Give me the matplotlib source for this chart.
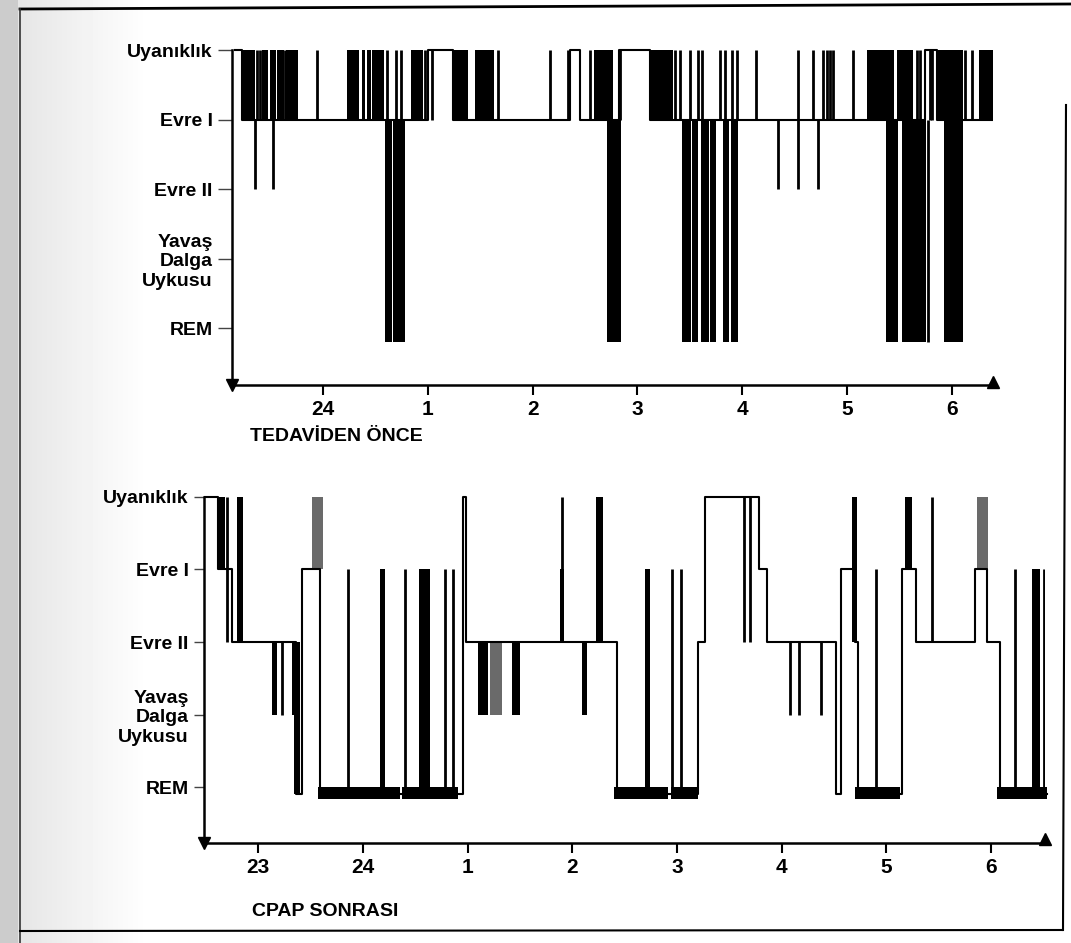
import numpy as np
import matplotlib
matplotlib.use('Agg')
import matplotlib.pyplot as plt

plt.rcParams['font.family'] = ['Liberation Sans', 'DejaVu Sans']
plt.rcParams['font.weight'] = 'bold'

# evreler (0 = uyaniklik, -4 = REM)
evre_ad = ['Uyanıklık', 'Evre I', 'Evre II', 'Yavaş\nDalga\nUykusu', 'REM']
evre_y = [0, -1, -2, -3, -4]

# ---- TEDAVIDEN ONCE (saat, 0 = gece yarisi) ----
ust_t = [-0.84, -0.77, 1.00, 1.24, 2.36, 2.45, 2.82, 3.12, 5.74, 5.86, 6.43]
ust_s = [0, -1, 0, -1, 0, -1, 0, -1, 0, -1, -1]
ust_saat = [0, 1, 2, 3, 4, 5, 6]
ust_etiket = ['24', '1', '2', '3', '4', '5', '6']

# yogun bloklar: baslangic, bitis, alt evre, ust evre
ust_blok_bas = [-0.78, -0.58, -0.51, -0.44, -0.35, 0.23, 0.37, 0.42, 0.47, 0.84, 1.24, 1.45, 2.59, 3.12, 5.19, 5.35, 5.48, 5.86, 6.26,
                0.59, 0.67, 2.71, 3.43, 3.52, 3.61, 3.69, 3.82, 3.89, 5.37, 5.52, 5.93, 6.06]
ust_blok_bit = [-0.65, -0.52, -0.45, -0.37, -0.24, 0.34, 0.40, 0.46, 0.58, 0.95, 1.38, 1.63, 2.77, 3.34, 5.35, 5.45, 5.63, 6.11, 6.39,
                0.66, 0.78, 2.84, 3.51, 3.58, 3.68, 3.75, 3.87, 3.96, 5.49, 5.75, 6.06, 6.11]
ust_blok_alt = [-1] * 19 + [-4.2] * 13
ust_blok_ust = [0] * 19 + [-1] * 13

# ince cizgiler
ust_cz_t = [-0.63, -0.60, -0.36, -0.30, -0.27, -0.057, 0.61, 0.70, 0.74, 0.97, 1.04, 1.67, 2.17, 2.34, 2.55, 2.83,
            3.36, 3.41, 3.50, 3.58, 3.62, 3.79, 3.84, 3.90, 3.95, 4.13, 4.53, 4.68, 4.77, 4.81, 4.84, 4.87, 5.06,
            5.67, 5.70, 5.79, 5.81, 6.13, 6.19, 6.41,
            -0.65, -0.48, 4.34, 4.53, 4.72, 5.77]
ust_cz_alt = [-1] * 40 + [-2] * 5 + [-4.2]
ust_cz_ust = [0] * 40 + [-1] * 5 + [-1]

# ---- CPAP SONRASI ----
alt_t = [-1.51, -1.39, -1.25, -0.645, -0.58, -0.41, 0.955, 0.98, 2.43, 3.20, 3.27, 3.78, 3.86, 4.52, 4.57,
         4.70, 4.73, 5.15, 5.28, 5.85, 5.96, 6.08, 6.53]
alt_s = [0, -1, -2, -4.1, -1, -4.1, 0, -2, -4.1, -2, 0, -1, -2, -4.1, -1, -2, -4.1, -1, -2, -1, -2, -4.1, -4.1]
alt_saat = [-1, 0, 1, 2, 3, 4, 5, 6]
alt_etiket = ['23', '24', '1', '2', '3', '4', '5', '6']

alt_blok_bas = [-1.385, -1.20, 2.23, 4.67, 5.18, 1.88, -0.87, -0.68, 1.10, 1.42, 2.09, 0.16, 0.53, 2.69, 6.39, -0.66]
alt_blok_bit = [-1.318, -1.15, 2.29, 4.72, 5.24, 1.92, -0.82, -0.62, 1.19, 1.50, 2.14, 0.21, 0.64, 2.74, 6.47, -0.60]
alt_blok_alt = [-1, -2, -2, -2, -1, -2, -3, -3, -3, -3, -3, -4.1, -4.1, -4.1, -4.1, -4.1]
alt_blok_ust = [0, 0, 0, 0, 0, -1, -2, -2, -2, -2, -2, -1, -1, -1, -1, -2]
alt_gri_bas = [-0.49, 5.86, 1.21]
alt_gri_bit = [-0.38, 5.97, 1.33]
alt_gri_alt = [-1, -1, -3]
alt_gri_ust = [0, 0, -2]

alt_cz_t = [-1.30, 3.64, 3.70, 5.43, 1.90, -0.77, 4.08, 4.16, 4.37,
            -0.14, 0.40, 0.78, 0.86, 2.95, 3.04, 4.90, 6.23, 6.50]
alt_cz_alt = [-2, -2, -2, -2, -2, -3, -3, -3, -3] + [-4.1] * 9
alt_cz_ust = [0, 0, 0, 0, 0, -2, -2, -2, -2] + [-1] * 9

# REM kalin cubuklari
rem_bas = [-0.43, 0.37, 2.40, 2.94, 4.70, 6.06]
rem_bit = [0.35, 0.91, 2.91, 3.20, 5.13, 6.53]

W, H = 1071, 943
fig = plt.figure(figsize=(W / 100, H / 100), dpi=100)

# sayfa arka plani
bg = fig.add_axes([0, 0, 1, 1])
bg.set_xlim(0, W)
bg.set_ylim(H, 0)
bg.axis('off')
grad = np.ones((10, 200))
xs = np.arange(200)
grad[:] = np.where(xs < 18, 0.80, 0.90 + 0.10 * np.clip((xs - 18) / 130, 0, 1))
bg.imshow(grad, cmap='gray', vmin=0, vmax=1, extent=[0, 200, H, 0], aspect='auto', zorder=0)
bg.plot([20, 1071], [9, 4], color='black', lw=2)
bg.plot([20, 20], [9, H], color='#333333', lw=1.2)
bg.plot([20, 1062], [931, 930], color='black', lw=1.5)
bg.plot([1063, 1066], [930, 105], color='black', lw=1.5)


def ciz(ax, t, s, bb, be, bl, bu, ct, cl, cu, saat, etiket, tlen, tpad):
    ax.plot(t, s, drawstyle='steps-post', color='black', lw=1.5)
    ax.bar(bb, np.array(bu) - np.array(bl), width=np.array(be) - np.array(bb), bottom=bl,
           align='edge', color='black', lw=0)
    ax.vlines(ct, cl, cu, color='black', lw=2.0)
    ax.set_facecolor('none')
    for k in ['top', 'right']:
        ax.spines[k].set_visible(False)
    ax.spines['left'].set_linewidth(1.8)
    ax.spines['bottom'].set_linewidth(1.8)
    x0, x1 = ax.get_xlim()
    y0 = ax.get_ylim()[0]
    ax.spines['left'].set_bounds(y0, 0)
    ax.plot([x0], [y0], marker='v', color='black', ms=9, clip_on=False)
    ax.plot([x1], [y0 + 0.05], marker='^', color='black', ms=8, clip_on=False)
    ax.set_yticks(evre_y)
    ax.set_yticklabels(evre_ad, fontsize=14, fontweight='bold')
    ax.set_xticks(saat)
    ax.set_xticklabels(etiket, fontsize=15, fontweight='bold')
    ax.tick_params(axis='y', length=tlen, width=1, pad=tpad, color='#444444')
    ax.tick_params(axis='x', length=7, width=1.5, pad=4, direction='out')


ax1 = fig.add_axes([232 / W, 1 - 385 / H, (993 - 232) / W, (385 - 39.6) / H])
ax1.set_xlim(-0.868, 6.393)
ax1.set_ylim(-4.82, 0.15)
ciz(ax1, ust_t, ust_s, ust_blok_bas, ust_blok_bit, ust_blok_alt, ust_blok_ust,
    ust_cz_t, ust_cz_alt, ust_cz_ust, ust_saat, ust_etiket, 10, 4)

ax2 = fig.add_axes([204 / W, 1 - 843 / H, (1045 - 204) / W, (843 - 486) / H])
ax2.set_xlim(-1.519, 6.514)
ax2.set_ylim(-4.77, 0.15)
ax2.bar(rem_bas, 0.17, width=np.array(rem_bit) - np.array(rem_bas), bottom=-4.17,
        align='edge', color='black', lw=0, clip_on=False)
ax2.bar(alt_gri_bas, np.array(alt_gri_ust) - np.array(alt_gri_alt),
        width=np.array(alt_gri_bit) - np.array(alt_gri_bas), bottom=alt_gri_alt,
        align='edge', color='#6a6a6a', lw=0)
ciz(ax2, alt_t, alt_s, alt_blok_bas, alt_blok_bit, alt_blok_alt, alt_blok_ust,
    alt_cz_t, alt_cz_alt, alt_cz_ust, alt_saat, alt_etiket, 7, 4)
for ln in ax2.lines:
    ln.set_clip_on(False)

fig.text(250 / W, 1 - 437 / H, 'TEDAVİDEN ÖNCE', fontsize=14, fontweight='bold', va='center', ha='left')
fig.text(252 / W, 1 - 912 / H, 'CPAP SONRASI', fontsize=14, fontweight='bold', va='center', ha='left')

fig.savefig('out.png', dpi=100)
